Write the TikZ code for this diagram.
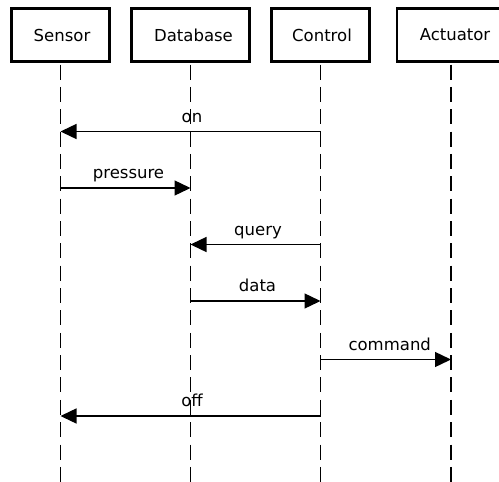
\documentclass[tikz,border=0pt]{standalone}
\usepackage{fontspec}
\setmainfont{DejaVu Sans}
\usetikzlibrary{arrows.meta}

\begin{document}
\begin{tikzpicture}[
  x=1pt, y=1pt,
  font=\fontsize{16.5}{20}\selectfont,
  actor/.style={draw, line width=2.6pt, minimum height=53.5pt, inner sep=0pt},
  actorname/.style={inner sep=0pt},
  lifeline/.style={line width=1.7pt, dash pattern=on 15pt off 7.35pt, dash phase=-1.5pt},
  msg/.style={line width=1.4pt, -{Triangle[length=16pt, width=15pt]}},
  lbl/.style={midway, anchor=base, yshift=9.5pt, inner sep=0pt}
]
\useasboundingbox[fill=white] (0,0) rectangle (499,-482);

% participants: boxes centred on their lifelines, names set slightly right
\node[actor, minimum width=98.5pt]  (sensor)   at (60.5,-35)  {};
\node[actor, minimum width=118.5pt] (database) at (190.5,-35) {};
\node[actor, minimum width=98.5pt]  (control)  at (320.5,-35) {};
\node[actor, minimum width=108pt]   (actuator) at (451,-35)   {};
\node[actorname, xshift=1.5pt] (sensorname)   at (sensor)   {Sensor};
\node[actorname, xshift=3pt]   (databasename) at (database) {Database};
\node[actorname, xshift=1.5pt] (controlname)  at (control)  {Control};
\node[actorname, xshift=4pt]   (actuatorname) at (actuator) {Actuator};

% lifelines
\coordinate (bottom) at (0,-482);
\foreach \p in {sensor,database,control,actuator}
  \draw[lifeline] (\p.south) -- (\p |- bottom);

% message rows
\coordinate (r1) at (0,-131.5);
\coordinate (r2) at (0,-188);
\coordinate (r3) at (0,-244.5);
\coordinate (r4) at (0,-301);
\coordinate (r5) at (0,-359.5);
\coordinate (r6) at (0,-416);

% messages
\draw[msg] (control |- r1)  -- node[lbl, xshift=1.5pt] {on}       (sensor |- r1);
\draw[msg] (sensor |- r2)   -- node[lbl, xshift=3pt]   {pressure} (database |- r2);
\draw[msg] (control |- r3)  -- node[lbl, xshift=2.5pt] {query}    (database |- r3);
\draw[msg] (database |- r4) -- node[lbl, xshift=2pt]   {data}     (control |- r4);
\draw[msg] (control |- r5)  -- node[lbl, xshift=4pt]   {command}  (actuator |- r5);
\draw[msg] (control |- r6)  -- node[lbl, xshift=1.5pt] {off}      (sensor |- r6);
\end{tikzpicture}
\end{document}
